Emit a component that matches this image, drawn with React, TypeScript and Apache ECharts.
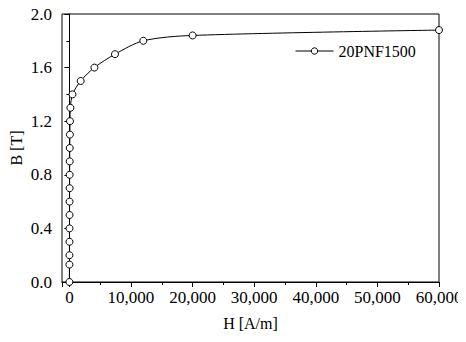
import React, { useEffect, useRef } from "react";
import * as echarts from "echarts";

const seriesName = "20PNF1500";
const hValues = [0, 5, 10, 15, 20, 25, 30, 35, 40, 50, 60, 80, 100, 160, 500, 1830, 4060, 7400, 12000, 20000, 60000];
const bValues = [0.0, 0.13, 0.2, 0.3, 0.4, 0.5, 0.6, 0.7, 0.8, 0.9, 1.0, 1.1, 1.2, 1.3, 1.4, 1.5, 1.6, 1.7, 1.8, 1.84, 1.88];
const xTitle = "H [A/m]";
const yTitle = "B [T]";

const FONT = "Liberation Serif";

export default function App() {
  const ref = useRef<HTMLDivElement>(null);
  useEffect(() => {
    if (!ref.current) return;
    const chart = echarts.init(ref.current, null, { renderer: "svg" });
    const data = hValues.map((h, i) => [h, bValues[i]]);
    const ts = { fontFamily: FONT, fontSize: 17, color: "#000", fontWeight: "normal" as const };
    chart.setOption({
      animation: false,
      backgroundColor: "#fff",
      textStyle: { fontFamily: FONT, color: "#000" },
      grid: {
        left: 62, right: 27, top: 14, bottom: 60,
        outerBoundsMode: "none",
        containLabel: false,
        show: true, borderColor: "#000", borderWidth: 1, backgroundColor: "transparent",
      },
      legend: {
        show: true,
        left: 290,
        top: 38,
        itemWidth: 38,
        itemHeight: 8,
        itemGap: 6,
        lineStyle: { width: 1, color: "#000" },
        itemStyle: { color: "#fff", borderColor: "#000", borderWidth: 1 },
        textStyle: { ...ts, fontSize: 16 },
        data: [seriesName],
      },
      xAxis: {
        type: "value",
        min: -1200,
        max: 60000,
        splitNumber: 6,
        name: xTitle,
        nameLocation: "middle",
        nameGap: 33,
        nameMoveOverlap: false,
        nameTextStyle: { ...ts, fontSize: 16 },
        axisLine: { show: true, lineStyle: { color: "#000", width: 1 } },
        axisTick: { show: true, length: 5, lineStyle: { color: "#000" } },
        minorTick: { show: true, splitNumber: 2, length: 3, lineStyle: { color: "#000" } },
        splitLine: { show: false },
        axisLabel: { showMinLabel: false, margin: 7, ...ts },
      },
      yAxis: {
        type: "value",
        min: 0,
        max: 2.0,
        interval: 0.4,
        name: yTitle,
        nameLocation: "middle",
        nameGap: 38,
        nameMoveOverlap: false,
        nameTextStyle: { ...ts, fontSize: 16 },
        axisLine: { show: true, lineStyle: { color: "#000", width: 1 } },
        axisTick: { show: true, length: 5, lineStyle: { color: "#000" } },
        minorTick: { show: true, splitNumber: 2, length: 3, lineStyle: { color: "#000" } },
        splitLine: { show: false },
        axisLabel: { margin: 10, ...ts, formatter: (v: number) => v.toFixed(1) },
      },
      series: [
        {
          name: seriesName,
          type: "line",
          data,
          smooth: 0.3,
          symbol: "circle",
          symbolSize: 7,
          showAllSymbol: true,
          lineStyle: { color: "#000", width: 1 },
          itemStyle: { color: "#fff", borderColor: "#000", borderWidth: 1 },
          clip: false,
        },
      ],
    });
    return () => chart.dispose();
  }, []);
  return <div ref={ref} style={{ width: 466, height: 342, margin: -8 }} />;
}
